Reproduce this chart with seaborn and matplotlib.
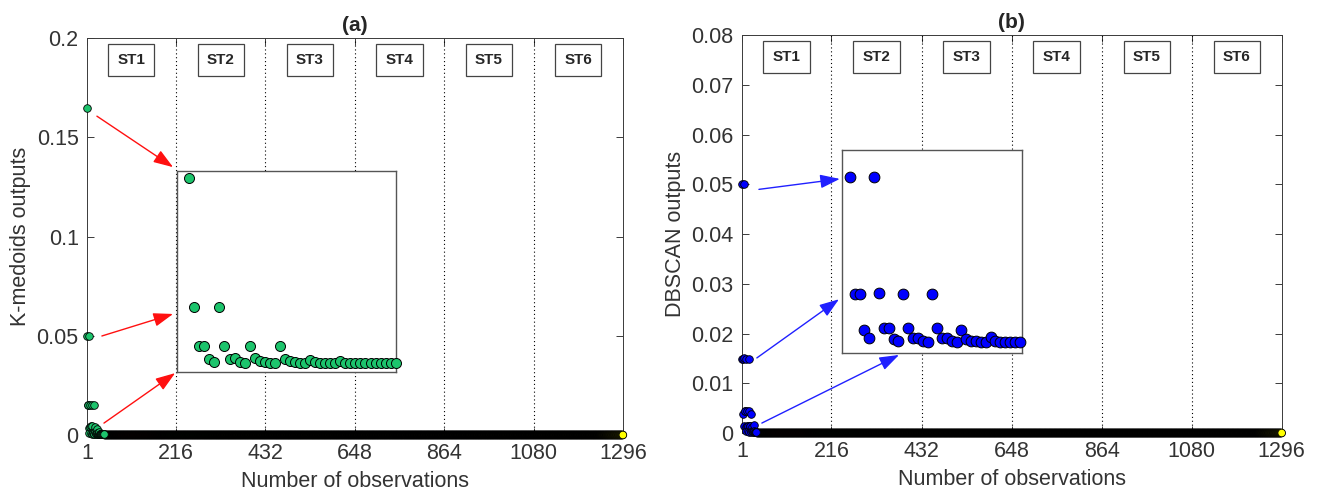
import numpy as np
import matplotlib
matplotlib.use("Agg")
import matplotlib.pyplot as plt
import seaborn as sns

# ---- data ----
n_obs = 1296
xticks = [1, 216, 432, 648, 864, 1080, 1296]
stages = ["ST1", "ST2", "ST3", "ST4", "ST5", "ST6"]
stage_bounds = [216, 432, 648, 864, 1080]

# first observations with non-zero output, everything after is 0
kmed_head = [0.165, 0.05, 0.015, 0.015, 0.0033, 0.0012, 0.05, 0.015, 0.004, 0.0045,
             0.001, 0.0003, 0.015, 0.0045, 0.0015, 0.001, 0.0003, 0.0003, 0.015, 0.004,
             0.0015, 0.001, 0.0003, 0.0003, 0.003, 0.001, 0.0003, 0.0003, 0.0003, 0.0003,
             0.0015, 0.0003, 0.0003, 0.0003, 0.0003, 0.0003, 0.0003, 0.0003, 0.0003, 0.0003,
             0.0003, 0.0003]
dbscan_head = [0.05, 0.0148, 0.0148, 0.0038, 0.0014, 0.05, 0.015, 0.0045, 0.0045, 0.0013,
               0.0005, 0.0148, 0.0045, 0.0014, 0.0014, 0.0005, 0.0002, 0.0148, 0.0045, 0.0014,
               0.0014, 0.0005, 0.0002, 0.0038, 0.0013, 0.0005, 0.0005, 0.0002, 0.0002, 0.0017,
               0.0005, 0.0002, 0.0002, 0.0002, 0.0002, 0.0002]

sns.set_theme(style="ticks")
plt.rcParams['font.family'] = ['Liberation Sans', 'DejaVu Sans']
plt.rcParams['axes.edgecolor'] = '#3a3a3a'
plt.rcParams['axes.linewidth'] = 0.7

fig = plt.figure(figsize=(13.2, 4.96), dpi=100)

panels = [
    dict(head=kmed_head, color='#1cc46c', arrow='#ff1010', ylabel='K-medoids outputs',
         title='(a)', ylim=(0, 0.2), yticks=[0, 0.05, 0.1, 0.15, 0.2],
         yticklabels=['0', '0.05', '0.1', '0.15', '0.2'],
         pos=[0.0659, 0.123, 0.406, 0.800], inset_pos=[0.134, 0.25, 0.166, 0.405],
         inset_xlim=(-1.45, 42.06), inset_ylim=(-0.008, 0.171), inset_s=52,
         arrows=[((25, 0.1607), (209, 0.135)),
                 ((37, 0.0499), (209, 0.061)),
                 ((42, 0.006), (214, 0.0312))]),
    dict(head=dbscan_head, color='#0000ff', arrow='#2020ff', ylabel='DBSCAN outputs',
         title='(b)', ylim=(0, 0.08), yticks=[0, 0.01, 0.02, 0.03, 0.04, 0.05, 0.06, 0.07, 0.08],
         yticklabels=['0', '0.01', '0.02', '0.03', '0.04', '0.05', '0.06', '0.07', '0.08'],
         pos=[0.562, 0.127, 0.409, 0.802], inset_pos=[0.638, 0.288, 0.136, 0.409],
         inset_xlim=(-0.58, 36.4), inset_ylim=(-0.0031, 0.0582), inset_s=60,
         arrows=[((42, 0.049), (236, 0.0511)),
                 ((37, 0.0151), (234, 0.0269)),
                 ((49, 0.002), (378, 0.0157))]),
]

# face colours along the index: dark almost everywhere, yellow at the very end
dark = ['#0a2a10', '#3a0000', '#3a0000', '#002a10', '#002a10', '#1a1a00',
        '#1a1a00', '#1a1a00', '#1a1a00', '#1a1a00', '#1a1a00', '#1a1a00',
        '#1a1a00', '#1a1a00', '#1a1a00', '#1a1a00', '#1a1a00', '#1a1a00',
        '#1a1a00', '#1a1a00', '#1a1a00', '#1a1a00', '#1a1a00', '#ffff00']
cmap = sns.blend_palette(dark, as_cmap=True)

for p in panels:
    head = np.array(p['head'])
    values = np.concatenate([head, np.zeros(n_obs - len(head))])
    obs = np.arange(1, n_obs + 1)
    k = len(head)

    ax = fig.add_axes(p['pos'])
    # zero observations, coloured along the index
    sns.scatterplot(x=obs[k:], y=values[k:], hue=obs[k:], palette=cmap, legend=False,
                    s=30, edgecolor='black', linewidth=0.6, ax=ax, clip_on=False, zorder=3)
    # non-zero observations
    sns.scatterplot(x=obs[:k], y=values[:k], color=p['color'], s=30,
                    edgecolor='black', linewidth=0.6, ax=ax, clip_on=False, zorder=4)

    for b in stage_bounds:
        ax.axvline(b, color='black', ls=(0, (1, 2.5)), lw=0.8, zorder=1)
    for i, st in enumerate(stages):
        ax.text(108 + 216 * i, 0.945, st, transform=ax.get_xaxis_transform(),
                ha='center', va='center', fontsize=11, fontweight='bold',
                bbox=dict(boxstyle='square,pad=0.6', fc='white', ec='#444444', lw=0.9))

    ax.set_xlim(1, n_obs)
    ax.set_ylim(*p['ylim'])
    ax.set_xticks(xticks)
    ax.set_yticks(p['yticks'])
    ax.set_yticklabels(p['yticklabels'])
    ax.tick_params(direction='in', top=True, right=True, length=5, width=0.7,
                   labelsize=15.5, labelcolor='#333333', color='#3a3a3a', pad=6)
    ax.set_xlabel('Number of observations', fontsize=15.5, color='#333333', labelpad=5)
    ax.set_ylabel(p['ylabel'], fontsize=15.5, color='#333333', labelpad=4)
    ax.set_title(p['title'], fontsize=15, fontweight='bold', pad=5)

    for tail, tip in p['arrows']:
        ax.annotate('', xy=tip, xytext=tail, zorder=6,
                    arrowprops=dict(arrowstyle='-|>,head_length=1.0,head_width=0.35',
                                    color=p['arrow'], lw=1.0, shrinkA=0, shrinkB=0))

    # zoomed inset of the first observations
    axi = fig.add_axes(p['inset_pos'])
    sns.scatterplot(x=obs[:k], y=values[:k], color=p['color'], s=p['inset_s'],
                    edgecolor='black', linewidth=0.7, ax=axi, clip_on=False, zorder=4)
    axi.set_xlim(*p['inset_xlim'])
    axi.set_ylim(*p['inset_ylim'])
    axi.set_xticks([])
    axi.set_yticks([])
    axi.set_xlabel('')
    axi.set_ylabel('')
    for sp in axi.spines.values():
        sp.set_color('#555555')
        sp.set_linewidth(1.0)

fig.savefig('out.png', dpi=100)
